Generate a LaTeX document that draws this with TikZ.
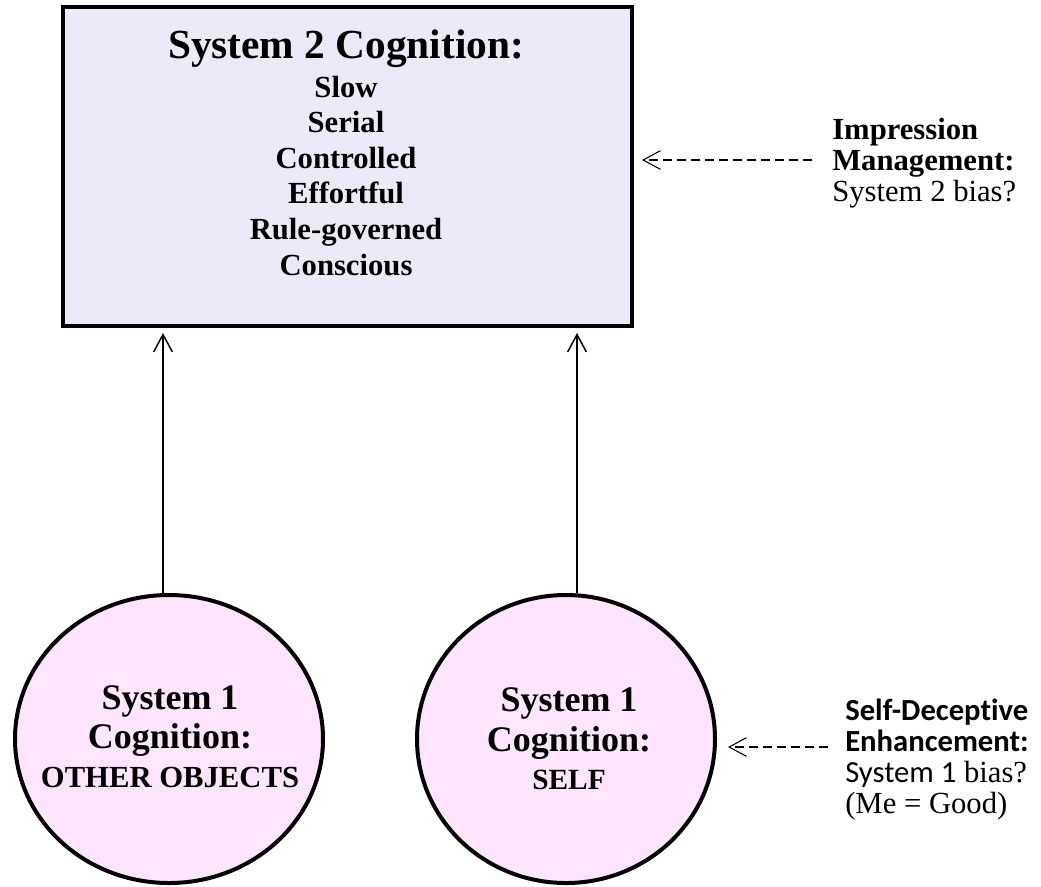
\documentclass[tikz,border=0pt]{standalone}
\usepackage{fontspec}
\setmainfont{Liberation Serif}
\newfontfamily\calibri[Ligatures=NoCommon]{Carlito}
\usetikzlibrary{arrows.meta, shapes.geometric}

\definecolor{boxfill}{RGB}{235,234,248}
\definecolor{cogfill}{RGB}{253,229,253}

\tikzset{
  sysbox/.style={draw=black, line width=3.4pt, fill=boxfill, inner sep=0pt,
                 minimum width=426.75pt, minimum height=239.25pt},
  cogball/.style={ellipse, draw=black, line width=3pt, fill=cogfill, inner sep=0pt},
  titletxt/.style={anchor=base, inner sep=0pt, font=\fontsize{31}{36}\selectfont\bfseries},
  listtxt/.style={anchor=base, inner sep=0pt, font=\fontsize{23}{27}\selectfont\bfseries},
  cogtxt/.style={anchor=base, inner sep=0pt, font=\fontsize{27}{31}\selectfont\bfseries},
  targettxt/.style={anchor=base, inner sep=0pt, font=\fontsize{23}{27}\selectfont\bfseries},
  labtxt/.style={anchor=base west, inner sep=0pt, font=\fontsize{23}{27}\selectfont},
  uparrow/.style={line width=1.1pt, -{Straight Barb[length=13pt,width=14pt]}},
  dasharrow/.style={line width=0.8pt, dash pattern=on 6.5pt off 4pt,
                    -{Straight Barb[length=13pt,width=14pt]}}
}

\begin{document}
\begin{tikzpicture}[x=0.75pt,y=-0.75pt]
%\draw[step=50,gray,very thin] (0,0) grid (1041,886); %background grid
\useasboundingbox (0,0) rectangle (1041,886);

% system 2 box
\node[sysbox] (sys2) at (347.5,166.5) {};
\node[titletxt] (s2title) at (346,58) {System 2 Cognition:};
\node[listtxt] (slow) at (346,97) {Slow};
\node[listtxt] (serial) at (346,132.6) {Serial};
\node[listtxt] (controlled) at (346,168.2) {Controlled};
\node[listtxt] (effortful) at (346,203.8) {Effortful};
\node[listtxt] (rulegov) at (346,239.4) {Rule-governed};
\node[listtxt] (conscious) at (346,275) {Conscious};

% system 1 circles
\node[cogball, minimum width=231pt, minimum height=216pt] (others) at (169,739) {};
\node[cogball, minimum width=223.5pt, minimum height=216pt] (self) at (566,739) {};

\node[cogtxt] (o1) at (170,709) {System 1};
\node[cogtxt] (o2) at (170,748) {Cognition:};
\node[targettxt] (o3) at (170,787) {OTHER OBJECTS};

\node[cogtxt] (s1) at (569,711) {System 1};
\node[cogtxt] (s2) at (569,751) {Cognition:};
\node[targettxt, font=\fontsize{22}{26}\selectfont\bfseries] (s3) at (569,789) {SELF};

% arrows up
\coordinate (up1) at (163,333);
\coordinate (up2) at (577,333);
\draw[uparrow] (up1 |- others.north) -- (up1);
\draw[uparrow] (up2 |- self.north) -- (up2);

% impression management
\node[labtxt] (impr) at (832,139) {\bfseries Impression};
\node[labtxt] (mgmt) at (832,170) {\bfseries Management:};
\node[labtxt] (bias2) at (832,201) {System 2 bias?};

\coordinate (mgtip) at (642,160);
\draw[dasharrow, shorten <=15pt] (mgmt.base west |- mgtip) -- (mgtip);

% self-deceptive enhancement
\node[labtxt] (sde) at (845,720) {\calibri\bfseries Self-Deceptive};
\node[labtxt] (enh) at (845,751) {\calibri\bfseries Enhancement:};
\node[labtxt] (bias1) at (845,782) {{\calibri System 1} bias?};
\node[labtxt] (megood) at (845,813) {(Me = Good)};

\coordinate (entip) at (728,747);
\draw[dasharrow, shorten <=12.75pt] (enh.base west |- entip) -- (entip);

\end{tikzpicture}
\end{document}
